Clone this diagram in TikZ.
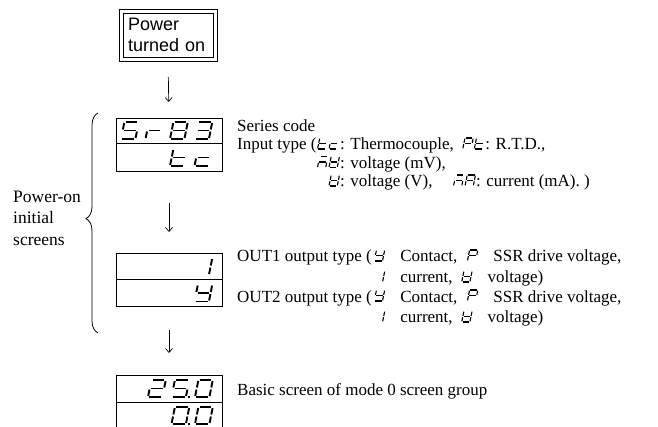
\documentclass[tikz,border=0pt]{standalone}
\usepackage{fontspec}
\setmainfont{Liberation Serif}
\newfontfamily\arialf{Liberation Sans}
\usetikzlibrary{arrows.meta,decorations.pathreplacing}

\newcommand{\segch}[5]{% #1 origin, #2 height, #3 line width, #4 width factor, #5 segments
  \begin{scope}[shift={#1},scale=#2,xslant=0.2]
    \coordinate (sgA1) at (0.08,1); \coordinate (sgA2) at (#4-0.08,1);
    \coordinate (sgB1) at (#4,0.94); \coordinate (sgB2) at (#4,0.56);
    \coordinate (sgC1) at (#4,0.44); \coordinate (sgC2) at (#4,0.06);
    \coordinate (sgD1) at (0.08,0); \coordinate (sgD2) at (#4-0.08,0);
    \coordinate (sgE1) at (0,0.44); \coordinate (sgE2) at (0,0.06);
    \coordinate (sgF1) at (0,0.94); \coordinate (sgF2) at (0,0.56);
    \coordinate (sgG1) at (0.08,0.5); \coordinate (sgG2) at (#4-0.08,0.5);
    \coordinate (sgP1) at (#4+0.1,0); \coordinate (sgP2) at (#4+0.22,0);
    \foreach \s in {#5}{\draw[line width=#3,line cap=butt] (sg\s1) -- (sg\s2);}
  \end{scope}}
\newcommand{\ig}[1]{\tikz[baseline=0pt,x=1pt,y=1pt]{\useasboundingbox (0,0) rectangle (12,12);\segch{(1,1)}{11}{1.1pt}{0.75}{#1}}}
\newcommand{\igg}[2]{\tikz[baseline=0pt,x=1pt,y=1pt]{\useasboundingbox (0,0) rectangle (23.5,12);\segch{(1,1)}{11}{1.1pt}{0.75}{#1}\segch{(12.5,1)}{11}{1.1pt}{0.75}{#2}}}
\newcommand{\bigseg}[3]{\segch{(#1,-#2)}{17}{1.9pt}{0.85}{#3}}

\begin{document}
\begin{tikzpicture}[x=1pt,y=1pt,
  txt/.style={inner sep=0pt,font=\fontsize{17}{19}\selectfont},
  disp/.style={draw,line width=0.9pt,minimum width=106pt,inner sep=0pt,outer sep=0pt},
  arr/.style={line width=0.7pt,-{Straight Barb[length=4pt,width=7pt]}}]
\useasboundingbox (0,0) rectangle (658,-427);

% power box
\node[draw,line width=0.8pt,minimum width=90pt,minimum height=44pt,
      inner sep=0pt,outer sep=0pt,text width=80pt,align=left,
      font=\arialf\fontsize{18}{21}\selectfont] (power) at (168,-35) {Power\\turned on};
\draw[line width=0.8pt] ([shift={(-4pt,4pt)}]power.north west) rectangle ([shift={(4pt,-4pt)}]power.south east);

% displays
\node[disp,minimum height=53pt] (d1) at (169,-144.5) {};
\draw[line width=0.9pt] ([yshift=1.5pt]d1.west) -- ([yshift=1.5pt]d1.east);
\node[disp,minimum height=53pt] (d2) at (169,-279.5) {};
\draw[line width=0.9pt] (d2.west) -- (d2.east);
\node[disp,minimum height=54pt] (d3) at (169,-402) {};
\draw[line width=0.9pt] (d3.west) -- (d3.east);

% display digits
\bigseg{121}{139}{A,F,G,C,D}
\bigseg{145.5}{139}{E,G}
\bigseg{170}{139}{A,B,C,D,E,F,G}
\bigseg{194.5}{139}{A,B,G,C,D}
\bigseg{170}{166}{F,E,G,D}
\bigseg{194.5}{166}{G,E,D}
\bigseg{194.5}{275}{B,C}
\bigseg{194.5}{301.5}{F,B,G,C,D}
\bigseg{148}{397}{A,B,G,E,D}
\bigseg{171.5}{397}{A,F,G,C,D,P}
\bigseg{195}{397}{A,B,C,D,E,F}
\bigseg{171.5}{424}{A,B,C,D,E,F,P}
\bigseg{195}{424}{A,B,C,D,E,F}

% arrows
\draw[arr,shorten <=20pt,shorten >=16pt] (power.south) -- (d1.north);
\draw[arr,shorten <=32pt,shorten >=21pt] (d1.south) -- (d2.north);
\draw[arr,shorten <=24pt,shorten >=22pt] (d2.south) -- (d3.north);

% brace and label
\draw[line width=0.8pt,decorate,decoration={brace,amplitude=12pt,aspect=0.52}] (98,-333) -- (98,-113);
\node[txt,font=\fontsize{17.5}{21.5}\selectfont,align=left,anchor=west] (lbl) at (13,-218) {Power-on\\initial\\screens};

% texts
\node[txt,anchor=base west] (t1) at (237,-132) {Series code};
\node[txt,anchor=base west] (t2) at (237,-150) {Input type (\igg{F,E,G,D}{G,E,D}: Thermocouple,\hspace{8pt}\igg{A,B,F,G,E}{F,E,G,D}: R.T.D.,};
\node[txt,anchor=base west] (t3) at (316.3,-168.5) {\igg{A,C,E,G}{B,C,D,E,F,G}: voltage (mV),};
\node[txt,anchor=base west] (t4) at (327.8,-187) {\ig{B,C,D,E,F,G}: voltage (V),\hspace{20pt}\igg{A,C,E,G}{A,B,C,E,F,G}: current (mA). )};
\node[txt,anchor=base west] (o1) at (237,-262) {OUT1 output type (\hspace{1.5pt}\ig{F,B,G,C,D}\hspace{15pt}Contact,\hspace{9pt}\ig{A,B,F,G,E}\hspace{15pt}SSR drive voltage,};
\node[txt,anchor=base west] (o2) at (373.1,-283) {\ig{B,C}\hspace{15pt}current,\hspace{8pt}\ig{B,C,D,E,F,G}\hspace{15pt}voltage)};
\node[txt,anchor=base west] (o3) at (237,-302) {OUT2 output type (\hspace{1.5pt}\ig{F,B,G,C,D}\hspace{15pt}Contact,\hspace{9pt}\ig{A,B,F,G,E}\hspace{15pt}SSR drive voltage,};
\node[txt,anchor=base west] (o4) at (373.1,-323) {\ig{B,C}\hspace{15pt}current,\hspace{8pt}\ig{B,C,D,E,F,G}\hspace{15pt}voltage)};
\node[txt,anchor=base west] (b1) at (237,-395) {Basic screen of mode 0 screen group};
\end{tikzpicture}
\end{document}
